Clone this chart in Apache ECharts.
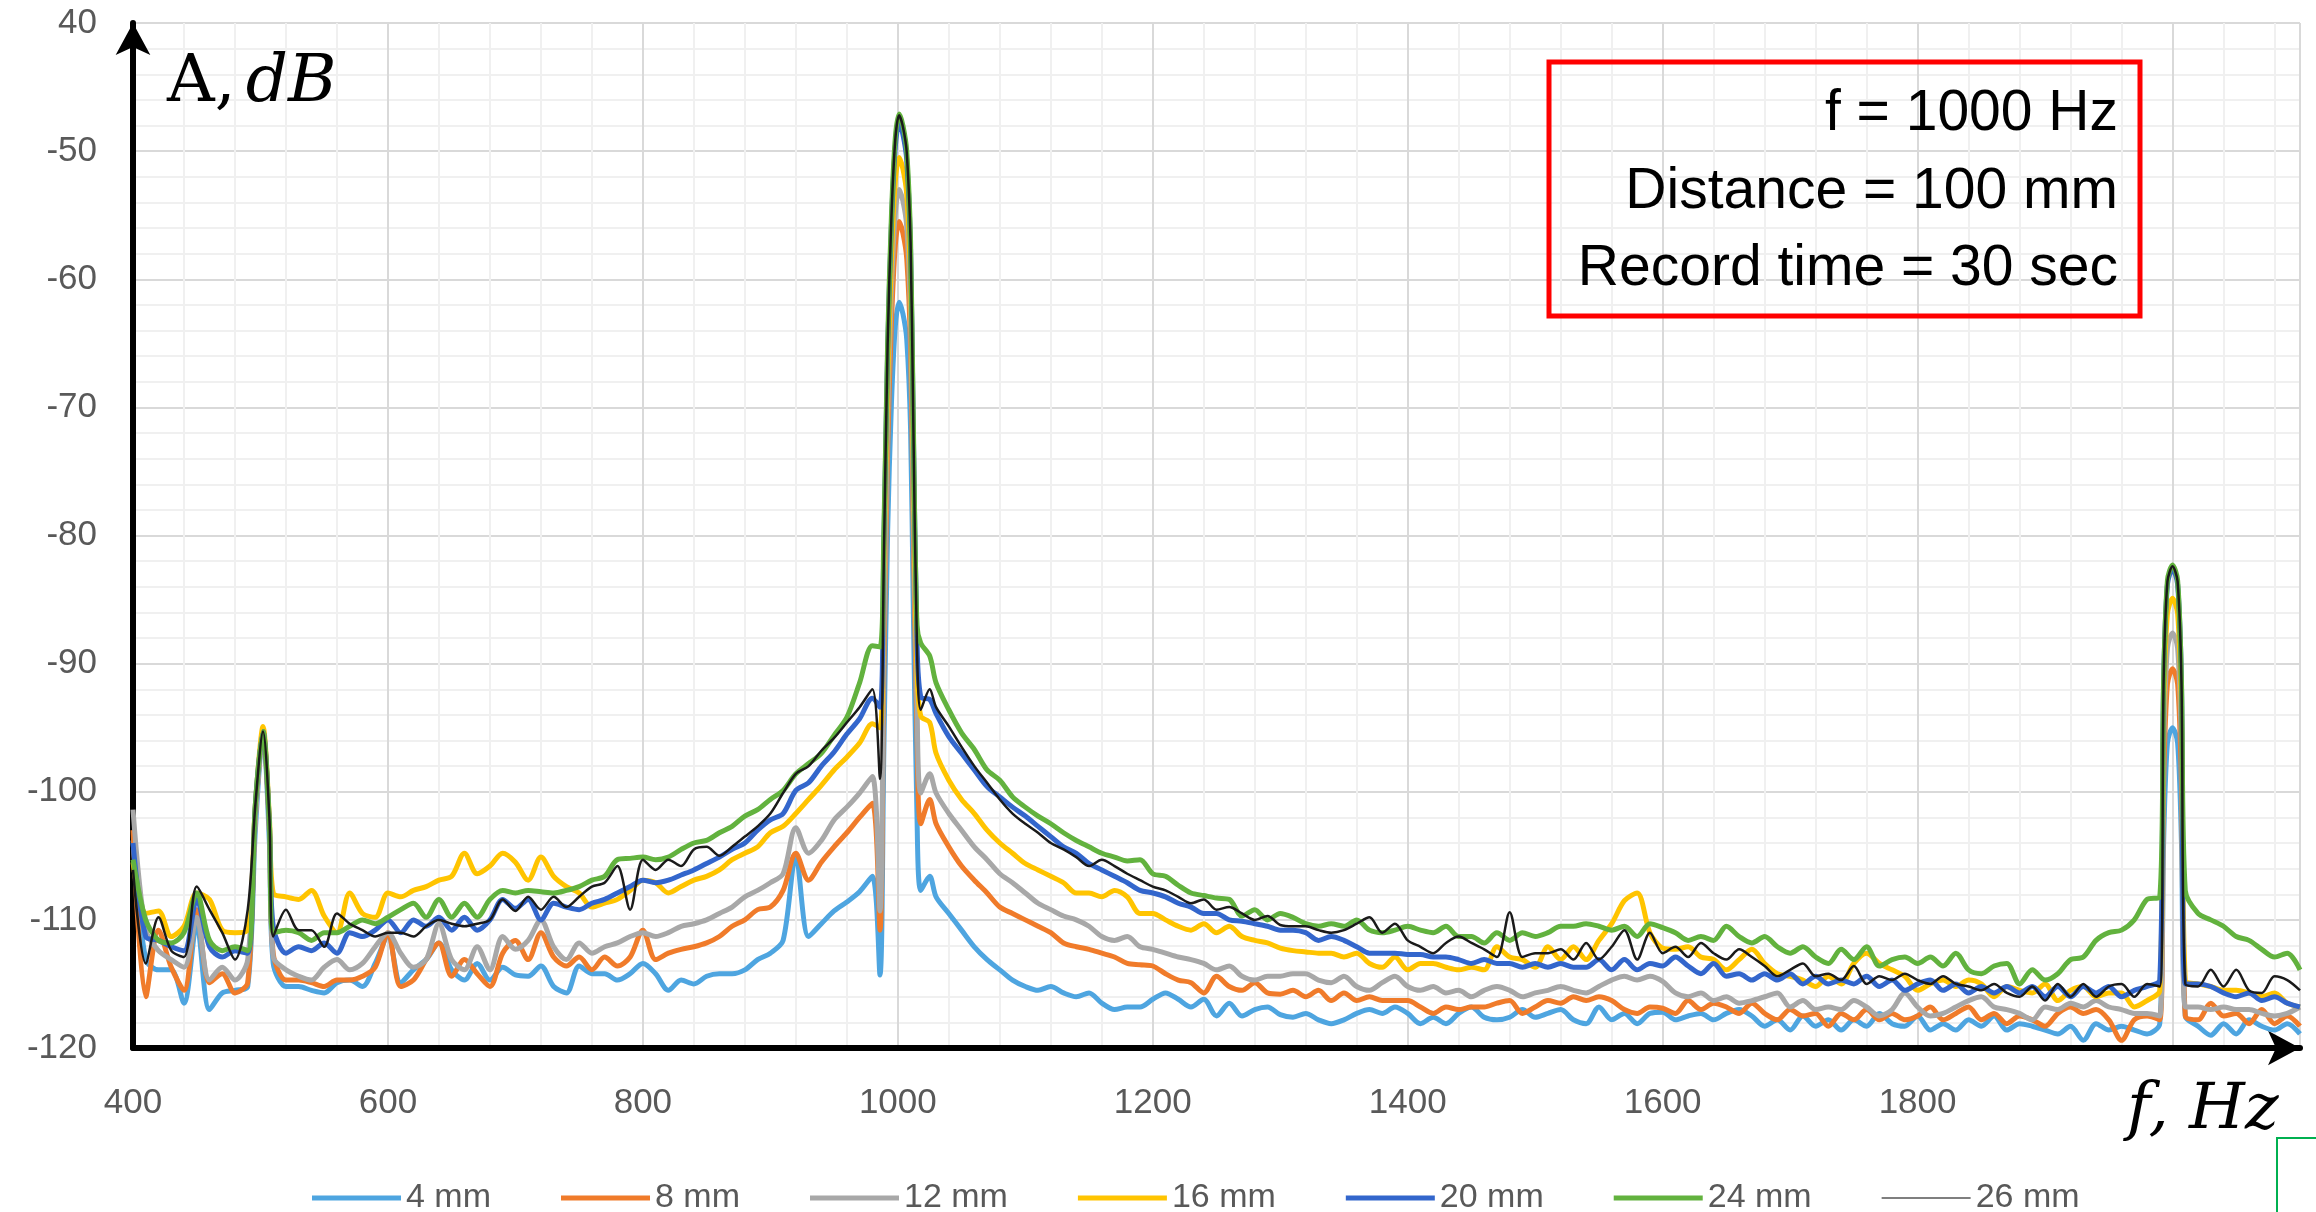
<!DOCTYPE html>
<html>
<head>
<meta charset="utf-8">
<title>Spectrum</title>
<script src="https://cdn.jsdelivr.net/npm/echarts@6/dist/echarts.min.js"></script>
<style>
  html, body { margin: 0; padding: 0; background: #fff; }
  #main { width: 2316px; height: 1212px; }
</style>
</head>
<body>
<div id="main"></div>
<script>
// frequency points (Hz), shared by every series
const freqs = [
  400, 410, 420, 430, 440, 450, 460, 470, 480, 490,
  496, 502, 507, 510, 520, 530, 540, 550, 560, 570,
  580, 590, 600, 610, 620, 630, 640, 650, 660, 670,
  680, 690, 700, 710, 720, 730, 740, 750, 760, 770,
  780, 790, 800, 810, 820, 830, 840, 850, 860, 870,
  880, 890, 900, 910, 920, 930, 940, 950, 960, 970,
  980, 986, 989, 992, 995, 998, 1001, 1004, 1007, 1010,
  1012, 1015, 1018,
  1025, 1030, 1040, 1050, 1060, 1070, 1080, 1090, 1100, 1110,
  1120, 1130, 1140, 1150, 1160, 1170, 1180, 1190, 1200, 1210,
  1220, 1230, 1240, 1250, 1260, 1270, 1280, 1290, 1300, 1310,
  1320, 1330, 1340, 1350, 1360, 1370, 1380, 1390, 1400, 1410,
  1420, 1430, 1440, 1450, 1460, 1470, 1480, 1490, 1500, 1510,
  1520, 1530, 1540, 1550, 1560, 1570, 1580, 1590, 1600, 1610,
  1620, 1630, 1640, 1650, 1660, 1670, 1680, 1690, 1700, 1710,
  1720, 1730, 1740, 1750, 1760, 1770, 1780, 1790, 1800, 1810,
  1820, 1830, 1840, 1850, 1860, 1870, 1880, 1890, 1900, 1910,
  1920, 1930, 1940, 1950, 1960, 1970, 1980, 1990, 1993, 1996,
  2000, 2004, 2007, 2010, 2020, 2030, 2040, 2050, 2060, 2070,
  2080, 2090, 2100
];

// amplitude, dB
const mm4 = [
  -103.8, -113.1, -113.9, -113.9, -116.5, -110.3, -117.0, -115.7, -115.5, -115.2,
  -103, -95.4, -104, -113.4, -115.2, -115.2, -115.5, -115.7, -114.9, -114.7,
  -115.2, -113.4, -111.3, -114.9, -113.9, -113.1, -111.8, -113.9, -114.7, -113.4,
  -114.7, -113.7, -114.3, -114.4, -113.6, -115.2, -115.7, -113.6, -114.2, -114.2,
  -114.7, -114.2, -113.4, -114.2, -115.5, -114.7, -115.0, -114.4, -114.2, -114.2,
  -113.9, -113.1, -112.6, -111.6, -105.0, -111.3, -110.3, -109.3, -108.6, -107.8,
  -106.6, -114.3, -97, -79.7, -69.7, -63.7, -61.8, -62.7, -64.7, -71.7,
  -84.7, -101.7, -107.7,
  -106.6, -108.2, -109.5, -110.8, -112.1, -113.1, -113.9, -114.7, -115.2, -115.5,
  -115.2, -115.7, -116.0, -115.7, -116.5, -117.0, -116.8, -116.8, -116.2, -115.7,
  -116.2, -116.8, -116.2, -117.5, -116.5, -117.5, -117.0, -116.8, -117.4, -117.6,
  -117.3, -117.8, -118.1, -117.8, -117.3, -117.0, -117.3, -116.8, -117.3, -118.1,
  -117.6, -118.1, -117.3, -116.8, -117.6, -117.8, -117.6, -117.0, -117.6, -117.3,
  -117.0, -117.8, -118.1, -116.8, -117.8, -117.3, -118.1, -117.3, -117.2, -117.8,
  -117.5, -117.3, -117.8, -117.3, -117.0, -117.5, -118.3, -117.8, -118.6, -117.5,
  -118.3, -117.8, -118.6, -117.8, -118.3, -117.3, -118.1, -118.3, -117.5, -118.6,
  -118.1, -118.6, -117.8, -118.3, -117.5, -118.6, -118.1, -118.3, -118.6, -118.9,
  -118.3, -119.4, -118.1, -118.6, -118.3, -118.6, -118.9, -118.1, -104, -96.2,
  -95.0, -96.2, -104, -117.5, -118.3, -119.0, -118.1, -118.9, -117.8, -118.3,
  -118.6, -118.1, -118.9
];

const mm8 = [
  -103.0, -116.0, -110.8, -113.7, -115.5, -109.2, -114.9, -114.2, -115.7, -114.9,
  -102, -95.4, -103, -112.6, -114.7, -114.7, -114.9, -115.2, -114.7, -114.7,
  -114.4, -113.7, -111.0, -115.2, -114.7, -113.1, -111.8, -114.4, -113.1, -114.2,
  -115.2, -112.6, -111.6, -113.1, -111.0, -112.9, -113.6, -112.9, -113.9, -112.9,
  -113.6, -112.9, -110.8, -113.1, -112.6, -112.3, -112.1, -111.8, -111.3, -110.5,
  -110.0, -109.2, -109.0, -107.7, -104.8, -106.9, -105.5, -104.3, -103.2, -102.0,
  -100.9, -110.8, -91, -73.4, -63.4, -57.4, -55.5, -56.4, -58.4, -65.4,
  -78.4, -95.4, -102.5,
  -100.6, -102.5, -104.3, -105.8, -106.9, -107.9, -109.0, -109.5, -110.0, -110.5,
  -111.0, -111.8, -112.1, -112.3, -112.6, -112.9, -113.4, -113.5, -113.6, -114.2,
  -114.7, -114.9, -115.7, -114.4, -115.2, -115.5, -114.9, -115.7, -115.8, -115.5,
  -116.0, -115.5, -116.3, -115.7, -116.3, -116.0, -116.3, -116.3, -116.3, -116.8,
  -117.3, -116.8, -117.0, -116.8, -116.8, -116.5, -116.3, -117.3, -116.8, -116.3,
  -116.5, -116.0, -116.3, -116.0, -116.3, -117.0, -117.3, -116.8, -116.9, -117.3,
  -116.3, -117.0, -116.5, -116.8, -117.3, -116.5, -117.3, -117.8, -117.0, -117.5,
  -117.3, -118.3, -117.3, -117.8, -117.0, -117.8, -117.3, -117.8, -117.5, -116.8,
  -117.8, -117.3, -116.8, -117.8, -117.3, -118.1, -117.5, -117.8, -118.3, -117.3,
  -116.8, -117.3, -117.0, -117.8, -119.4, -117.8, -117.5, -117.8, -99.4, -91.6,
  -90.4, -91.6, -99.4, -117.5, -117.8, -116.5, -117.5, -117.3, -118.1, -117.0,
  -118.1, -117.5, -118.3
];

const mm12 = [
  -101.4, -110.8, -112.4, -113.1, -113.7, -109.8, -114.7, -113.7, -114.7, -113.1,
  -102, -95.4, -103, -112.9, -113.9, -114.4, -114.7, -113.7, -113.1, -113.9,
  -113.4, -112.1, -111.0, -112.6, -113.7, -113.1, -110.3, -113.1, -113.9, -112.1,
  -113.9, -111.3, -112.3, -111.6, -110.0, -112.1, -113.1, -111.8, -112.6, -112.1,
  -111.8, -111.3, -111.0, -111.3, -111.0, -110.5, -110.3, -110.0, -109.5, -109.0,
  -108.2, -107.7, -107.1, -106.4, -102.8, -104.8, -103.8, -102.2, -101.2, -100.1,
  -98.8, -109.3, -88, -70.9, -60.9, -54.9, -53.0, -53.9, -55.9, -62.9,
  -75.9, -92.9, -100.1,
  -98.6, -100.1, -101.7, -103.0, -104.3, -105.3, -106.4, -107.1, -107.9, -108.7,
  -109.2, -109.7, -110.0, -110.5, -111.3, -111.6, -111.3, -112.1, -112.3, -112.6,
  -112.9, -113.1, -113.4, -113.9, -113.6, -114.4, -114.7, -114.4, -114.4, -114.2,
  -114.2, -114.7, -114.9, -114.4, -115.2, -115.5, -114.9, -114.4, -115.2, -115.5,
  -115.2, -115.7, -115.5, -116.0, -115.5, -115.2, -115.5, -116.0, -115.7, -115.5,
  -115.2, -115.5, -115.7, -115.2, -114.7, -114.4, -114.7, -114.4, -114.8, -115.7,
  -116.0, -115.7, -116.3, -116.0, -116.5, -116.3, -116.0, -115.7, -116.8, -116.3,
  -117.0, -116.8, -117.0, -116.3, -116.8, -117.5, -117.0, -115.7, -116.8, -117.5,
  -117.3, -116.8, -116.3, -116.0, -116.8, -117.0, -117.3, -117.8, -116.8, -117.0,
  -116.5, -116.8, -116.3, -116.8, -117.0, -117.3, -117.3, -117.5, -96.6, -88.8,
  -87.6, -88.8, -96.6, -116.8, -116.8, -117.0, -116.8, -117.0, -117.0, -117.3,
  -117.5, -117.3, -116.8
];

const mm16 = [
  -105.5, -109.5, -109.3, -111.3, -110.5, -107.9, -108.4, -110.8, -111.0, -110.8,
  -101, -94.9, -102, -107.9, -108.2, -108.4, -107.7, -109.7, -111.0, -107.9,
  -109.5, -109.8, -107.9, -108.2, -107.7, -107.4, -106.9, -106.6, -104.8, -106.4,
  -105.8, -104.8, -105.5, -106.9, -105.1, -106.6, -107.4, -107.9, -109.0, -108.7,
  -108.4, -107.7, -106.9, -107.1, -107.9, -107.4, -106.9, -106.6, -106.1, -105.3,
  -104.8, -104.3, -103.2, -102.7, -101.7, -100.6, -99.5, -98.3, -97.3, -96.2,
  -94.7, -95.0, -83, -68.4, -58.4, -52.4, -50.5, -51.4, -53.4, -60.4,
  -73.4, -90.4, -94.1,
  -94.6, -97.0, -99.1, -100.6, -101.7, -103.0, -104.0, -104.8, -105.6, -106.1,
  -106.6, -107.1, -107.9, -107.9, -108.2, -107.7, -108.2, -109.5, -109.5, -110.0,
  -110.5, -110.8, -110.3, -111.0, -110.5, -111.3, -111.6, -111.8, -112.2, -112.4,
  -112.5, -112.6, -112.6, -112.9, -112.6, -113.4, -113.7, -112.9, -113.9, -113.4,
  -113.4, -113.7, -113.9, -113.7, -113.9, -112.1, -112.9, -113.1, -113.7, -112.1,
  -113.1, -112.1, -113.1, -111.6, -110.3, -108.5, -107.9, -111.0, -112.2, -112.3,
  -112.1, -112.9, -113.1, -113.9, -113.1, -112.3, -113.4, -114.2, -114.4, -114.7,
  -115.2, -114.4, -115.0, -113.4, -112.6, -113.4, -113.9, -114.4, -115.5, -115.0,
  -114.7, -115.2, -114.7, -115.0, -116.0, -115.2, -115.5, -115.7, -115.0, -116.3,
  -115.5, -115.2, -116.0, -115.7, -115.7, -116.8, -116.3, -115.5, -93.9, -86.1,
  -84.9, -86.1, -93.9, -114.7, -115.0, -115.2, -115.5, -115.5, -115.7, -116.0,
  -115.7, -116.5, -116.8
];

const mm20 = [
  -104.0, -111.3, -111.6, -112.1, -112.4, -108.4, -112.1, -112.9, -112.4, -112.6,
  -101, -95.3, -102.5, -110.5, -112.6, -112.1, -112.4, -111.8, -112.6, -111.0,
  -111.3, -110.8, -110.0, -111.0, -110.0, -110.5, -109.8, -110.8, -109.8, -110.8,
  -110.0, -108.4, -109.1, -108.4, -110.0, -108.7, -109.0, -109.2, -108.7, -108.4,
  -107.9, -107.4, -106.9, -107.1, -106.9, -106.5, -106.1, -105.6, -105.1, -104.5,
  -104.0, -103.0, -102.2, -101.7, -99.9, -99.3, -98.0, -96.9, -95.5, -94.3,
  -92.7, -93.4, -81, -65.7, -55.7, -49.7, -47.8, -48.7, -50.7, -57.7,
  -70.7, -88, -92.6,
  -92.8, -93.9, -95.7, -97.0, -98.3, -99.6, -100.4, -101.2, -101.9, -102.7,
  -103.5, -104.3, -104.8, -105.6, -106.1, -106.6, -107.1, -107.7, -107.9, -108.2,
  -108.7, -109.0, -109.5, -109.5, -110.0, -110.1, -110.3, -110.5, -110.8, -110.8,
  -111.0, -111.6, -111.3, -111.6, -112.1, -112.6, -112.6, -112.6, -112.7, -112.7,
  -112.9, -112.9, -113.1, -113.4, -113.1, -113.4, -113.4, -113.7, -113.4, -113.7,
  -113.4, -113.7, -113.7, -113.1, -113.9, -113.1, -113.9, -113.4, -113.6, -112.9,
  -113.6, -114.2, -113.4, -114.4, -114.2, -114.7, -114.2, -114.7, -114.2, -115.0,
  -114.4, -115.0, -114.7, -115.0, -114.4, -115.2, -114.7, -115.5, -115.0, -114.7,
  -115.5, -115.0, -115.7, -115.2, -115.7, -115.2, -115.7, -115.2, -116.0, -115.2,
  -116.0, -115.2, -115.7, -115.2, -116.0, -115.5, -115.2, -114.7, -91.6, -83.8,
  -82.6, -83.8, -91.6, -115.0, -115.0, -115.2, -115.7, -116.0, -115.7, -116.3,
  -116.0, -116.5, -116.8
];

const mm24 = [
  -105.3, -110.0, -111.6, -111.8, -111.0, -107.9, -111.6, -112.4, -112.1, -112.4,
  -101, -95.3, -102.5, -111.0, -110.8, -111.0, -111.6, -111.0, -111.0, -110.5,
  -110.0, -110.3, -109.8, -109.2, -108.7, -109.8, -108.4, -109.8, -108.7, -109.8,
  -108.4, -107.7, -107.9, -107.7, -107.8, -107.9, -107.7, -107.4, -106.9, -106.6,
  -105.3, -105.2, -105.1, -105.3, -105.1, -104.5, -104.0, -103.8, -103.2, -102.7,
  -101.9, -101.4, -100.6, -99.9, -98.6, -97.8, -97.0, -95.6, -94.2, -91.5,
  -88.6, -88.7, -80, -65, -55, -49, -47.1, -48, -50, -57,
  -70, -87, -88.4,
  -89.4, -91.5, -93.6, -95.4, -96.7, -98.3, -99.1, -100.4, -101.2, -101.9,
  -102.5, -103.2, -103.8, -104.3, -104.8, -105.1, -105.4, -105.3, -106.4, -106.6,
  -107.3, -107.9, -108.1, -108.3, -108.4, -109.7, -109.2, -110.0, -109.5, -109.8,
  -110.3, -110.5, -110.3, -110.5, -110.0, -110.8, -111.0, -110.8, -110.5, -110.8,
  -111.0, -110.5, -111.3, -111.3, -111.8, -111.0, -111.6, -111.0, -111.3, -111.0,
  -110.5, -110.5, -110.3, -110.5, -110.8, -110.5, -111.3, -110.3, -110.6, -111.0,
  -111.6, -111.3, -111.6, -110.5, -111.3, -111.8, -111.3, -112.1, -112.6, -112.1,
  -112.9, -113.4, -112.3, -113.1, -112.1, -113.6, -113.1, -112.9, -113.4, -112.9,
  -113.6, -112.6, -113.9, -114.2, -113.6, -113.4, -115.0, -113.9, -114.7, -114.2,
  -113.1, -112.9, -111.6, -111.0, -110.8, -110.0, -108.4, -108.2, -91.3, -83.5,
  -82.3, -83.5, -91.3, -107.7, -109.5, -110.0, -110.5, -111.3, -111.6, -112.3,
  -112.9, -112.6, -113.9
];

const mm26 = [
  -106.1, -113.4, -109.8, -112.4, -112.9, -107.4, -109.2, -111.0, -113.1, -109.2,
  -101, -95.3, -102, -111.3, -109.2, -110.8, -110.8, -112.1, -109.5, -110.3,
  -110.8, -111.3, -111.0, -111.0, -111.3, -110.5, -110.0, -110.3, -110.5, -110.3,
  -110.0, -108.4, -109.3, -108.2, -109.2, -108.2, -109.0, -108.2, -107.4, -107.1,
  -105.8, -109.2, -105.3, -106.1, -105.3, -105.8, -104.5, -104.3, -105.0, -104.3,
  -103.5, -102.7, -101.7, -100.1, -98.6, -98.0, -96.8, -95.8, -94.6, -93.4,
  -92.0, -99.0, -82, -65.1, -55.1, -49.1, -47.2, -48.1, -50.1, -57.1,
  -70.1, -88.5, -93.6,
  -92.0, -93.4, -94.9, -96.5, -98.0, -99.3, -100.6, -101.7, -102.5, -103.2,
  -104.0, -104.5, -105.1, -105.8, -105.3, -105.8, -106.4, -106.9, -107.4, -107.7,
  -108.2, -108.7, -108.4, -109.2, -109.0, -109.5, -110.0, -109.7, -110.4, -110.5,
  -110.5, -110.8, -111.0, -110.8, -110.3, -109.8, -111.0, -110.3, -111.6, -112.1,
  -112.6, -111.8, -111.3, -111.8, -112.3, -112.9, -109.4, -112.9, -112.6, -112.6,
  -112.3, -113.1, -111.8, -113.1, -112.1, -110.8, -113.1, -111.0, -112.6, -112.1,
  -112.9, -111.8, -112.6, -113.1, -112.3, -112.9, -113.6, -114.4, -113.9, -113.4,
  -114.4, -114.2, -114.7, -113.6, -115.0, -114.4, -114.7, -114.2, -114.7, -115.0,
  -114.4, -115.0, -115.2, -115.5, -115.0, -115.7, -116.0, -115.2, -116.3, -115.0,
  -116.0, -115.0, -116.0, -115.2, -115.0, -116.0, -115.0, -115.2, -91.4, -83.6,
  -82.4, -83.6, -91.4, -115.0, -115.2, -113.9, -115.2, -113.9, -115.5, -115.7,
  -114.4, -114.7, -115.5
];

const seriesNames = ['4 mm', '8 mm', '12 mm', '16 mm', '20 mm', '24 mm', '26 mm'];
const seriesColors = ['#4ea5e0', '#f07b2a', '#a8a8a8', '#ffc400', '#3366cc', '#62b23e', '#1a1a1a'];
const seriesValues = [mm4, mm8, mm12, mm16, mm20, mm24, mm26];

const yTicks = [-120, -110, -100, -90, -80, -70, -60, -50, -40];
const xTicks = [400, 600, 800, 1000, 1200, 1400, 1600, 1800];

const infoLines = ['f = 1000 Hz', 'Distance = 100 mm', 'Record time = 30 sec'];

const labelFont = '"Liberation Sans", Arial, sans-serif';
const mathFont = '"DejaVu Serif", "Liberation Serif", serif';

let chart = echarts.init(document.getElementById('main'), null, {renderer: 'canvas'});

const series = seriesValues.map((vals, i) => ({
    name: seriesNames[i],
    type: 'line',
    data: freqs.map((f, j) => [f, vals[j]]),
    showSymbol: false,
    symbol: 'none',
    smooth: 0.3,
    silent: true,
    color: seriesColors[i],
    lineStyle: {
        width: i === 6 ? 2.5 : 5,
        color: seriesColors[i]
    }
}));

// plain line swatches in the legend, the last one thin and grey
const legendData = seriesNames.map((n, i) => ({
    name: n,
    icon: i === 6 ? 'path://M0,0 L100,0 L100,2 L0,2 Z' : 'rect',
    itemStyle: {color: i === 6 ? '#7f7f7f' : seriesColors[i]}
}));

let option = {
    animation: false,
    backgroundColor: '#ffffff',
    grid: {
        left: 133,
        right: 16,
        top: 23,
        bottom: 164
    },
    legend: {
        left: 307,
        top: 1176,
        itemWidth: 89,
        itemHeight: 5,
        itemGap: 70,
        textStyle: {
            fontFamily: labelFont,
            fontSize: 34,
            color: '#595959'
        },
        data: legendData
    },
    xAxis: {
        type: 'value',
        min: 400,
        max: 2100,
        interval: 200,
        axisLine: {
            show: true,
            lineStyle: {color: '#000', width: 6},
            symbol: ['none', 'arrow'],
            symbolSize: [26, 32]
        },
        axisTick: {show: false},
        axisLabel: {
            margin: 38,
            fontFamily: labelFont,
            fontSize: 35,
            color: '#595959',
            formatter: v => xTicks.indexOf(v) >= 0 ? String(v) : ''
        },
        splitLine: {show: true, lineStyle: {color: '#d9d9d9', width: 2}},
        minorTick: {show: false, splitNumber: 5},
        minorSplitLine: {show: true, lineStyle: {color: '#f0f0f0', width: 2}}
    },
    yAxis: {
        type: 'value',
        min: -120,
        max: -40,
        interval: 10,
        axisLine: {
            show: true,
            lineStyle: {color: '#000', width: 6},
            symbol: ['none', 'arrow'],
            symbolSize: [26, 32]
        },
        axisTick: {show: false},
        axisLabel: {
            margin: 36,
            fontFamily: labelFont,
            fontSize: 35,
            color: '#595959',
            // the top label reads "40" in the source figure
            formatter: v => yTicks.indexOf(v) < 0 ? '' : (v === -40 ? '40' : String(v))
        },
        splitLine: {show: true, lineStyle: {color: '#d9d9d9', width: 2}},
        minorTick: {show: false, splitNumber: 5},
        minorSplitLine: {show: true, lineStyle: {color: '#f0f0f0', width: 2}}
    },
    graphic: [
        {
            type: 'rect',
            shape: {x: 1549, y: 62, width: 591, height: 254},
            style: {fill: 'none', stroke: '#ff0000', lineWidth: 5},
            z: 10
        },
        {
            type: 'text',
            x: 2118, y: 114,
            style: {text: infoLines[0], align: 'right', verticalAlign: 'middle',
                fontFamily: labelFont, fontSize: 57, fill: '#000'},
            z: 10
        },
        {
            type: 'text',
            x: 2118, y: 192,
            style: {text: infoLines[1], align: 'right', verticalAlign: 'middle',
                fontFamily: labelFont, fontSize: 57, fill: '#000'},
            z: 10
        },
        {
            type: 'text',
            x: 2118, y: 269,
            style: {text: infoLines[2], align: 'right', verticalAlign: 'middle',
                fontFamily: labelFont, fontSize: 57, fill: '#000'},
            z: 10
        },
        {
            type: 'text',
            x: 167, y: 84,
            style: {
                text: '{a|A,}{b|dB}',
                verticalAlign: 'middle',
                rich: {
                    a: {fontFamily: mathFont, fontSize: 66, fill: '#000', color: '#000', padding: [0, 10, 0, 0]},
                    b: {fontFamily: mathFont, fontSize: 66, fontStyle: 'italic', fill: '#000', color: '#000'}
                }
            },
            z: 10
        },
        {
            type: 'text',
            x: 2127, y: 1111,
            style: {
                text: 'f, Hz',
                verticalAlign: 'middle',
                fontFamily: mathFont, fontSize: 64, fontStyle: 'italic', fill: '#000'
            },
            z: 10
        },
        {
            // corner of a neighbouring slide element
            type: 'rect',
            shape: {x: 2277, y: 1138, width: 80, height: 120},
            style: {fill: 'none', stroke: '#00b050', lineWidth: 2},
            z: 10
        }
    ],
    series: series
};

chart.setOption(option);
</script>
</body>
</html>
